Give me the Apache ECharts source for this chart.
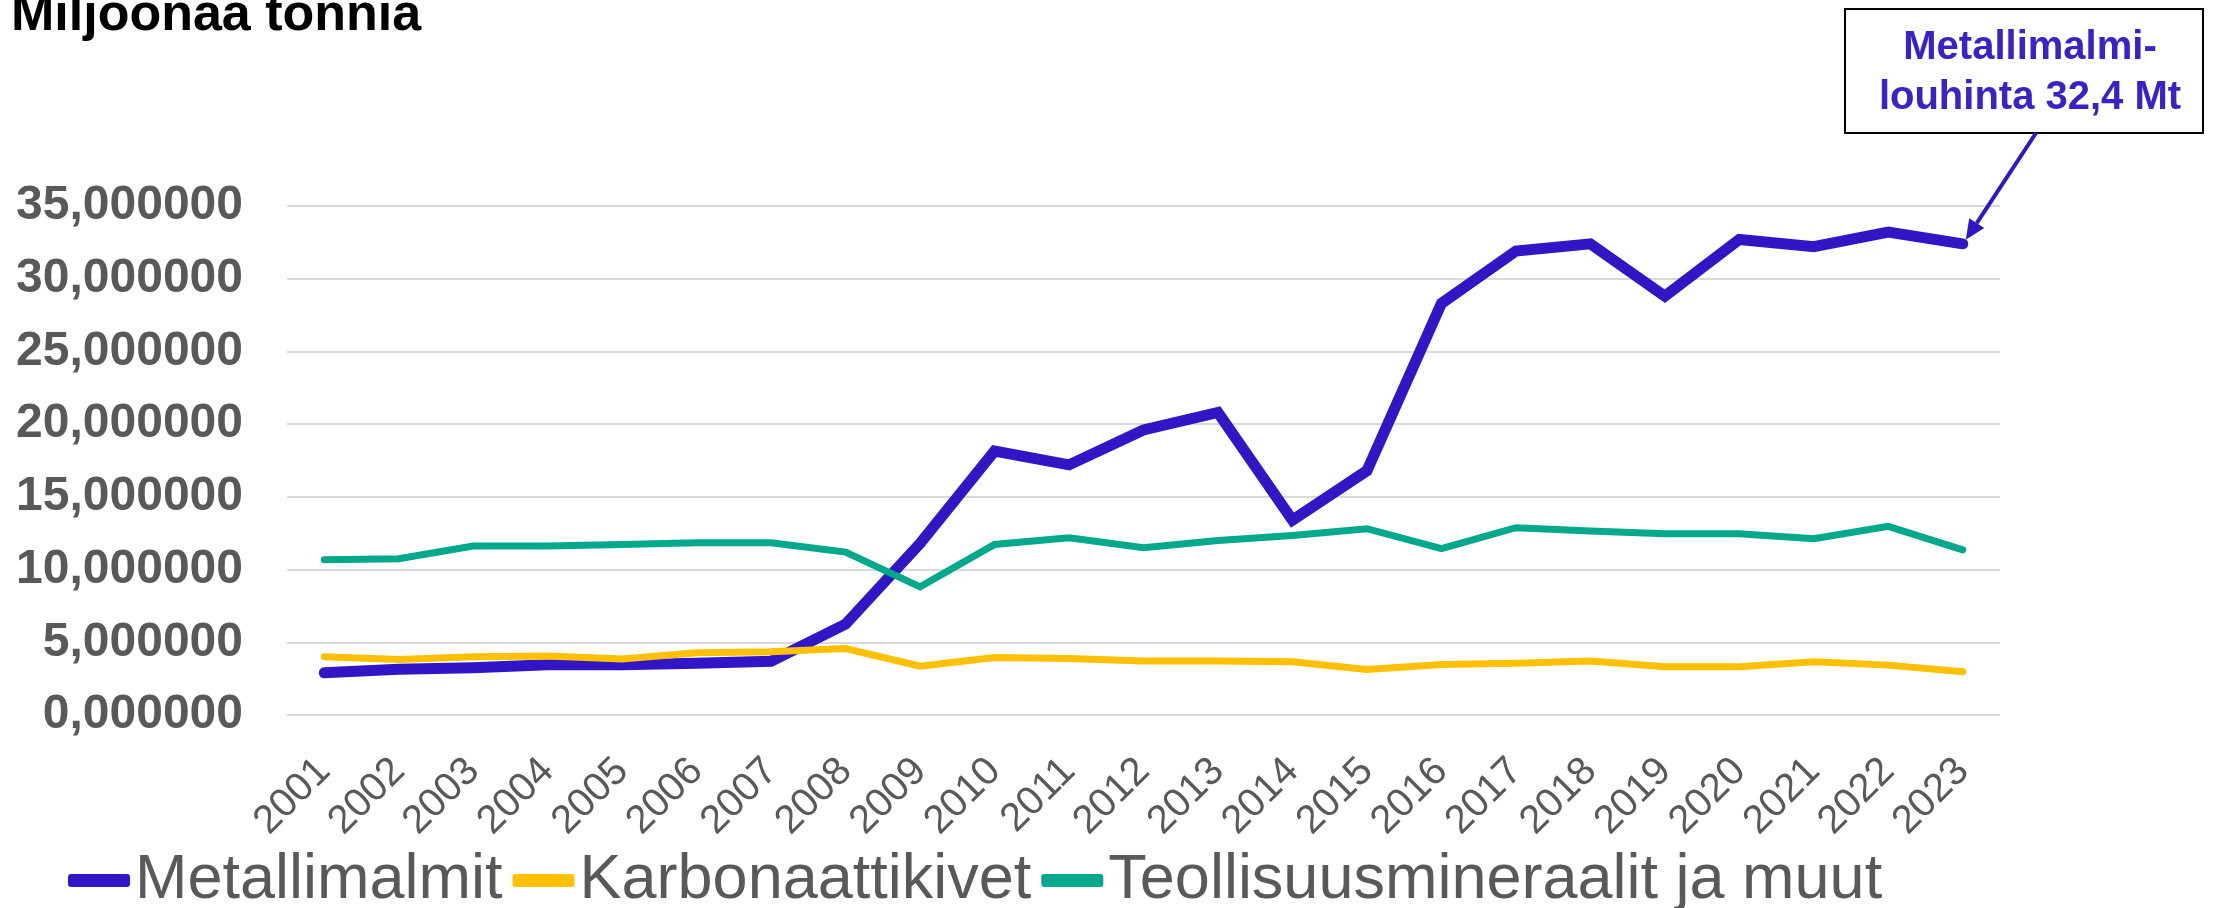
<!DOCTYPE html>
<html>
<head>
<meta charset="utf-8">
<script src="https://cdn.jsdelivr.net/npm/echarts@6/dist/echarts.min.js"></script>
<style>
html,body{margin:0;padding:0;background:#fff;}
#chart{width:2216px;height:908px;}
</style>
</head>
<body>
<div id="chart"></div>
<script>
const years = ['2001','2002','2003','2004','2005','2006','2007','2008','2009','2010','2011','2012','2013','2014','2015','2016','2017','2018','2019','2020','2021','2022','2023'];
const metallimalmit = [2.9,3.15,3.25,3.45,3.45,3.55,3.7,6.25,11.8,18.15,17.2,19.6,20.8,13.4,16.8,28.3,31.9,32.4,28.8,32.7,32.2,33.2,32.4];
const karbonaattikivet = [4.0,3.82,4.0,4.05,3.85,4.28,4.35,4.57,3.36,3.96,3.89,3.72,3.72,3.66,3.13,3.48,3.55,3.71,3.32,3.32,3.66,3.43,2.97];
const teollisuus = [10.68,10.75,11.62,11.62,11.73,11.85,11.85,11.2,8.81,11.73,12.19,11.5,12.0,12.35,12.81,11.44,12.88,12.65,12.47,12.47,12.12,12.97,11.36];
const seriesNames = ['Metallimalmit','Karbonaattikivet','Teollisuusmineraalit ja muut'];
const titleText = 'Miljoonaa tonnia';
const annotationLines = ['Metallimalmi-','louhinta 32,4 Mt'];

const FONT = '"Liberation Sans", Arial, sans-serif';
const chart = echarts.init(document.getElementById('chart'), null, {renderer:'canvas'});

const option = {
  animation:false,
  backgroundColor:'#ffffff',
  grid:{left:287,right:216,top:206,bottom:193,containLabel:false},
  legend:{
    data:seriesNames,
    left:68, top:849, padding:0,
    icon:'roundRect', itemWidth:62, itemHeight:13, itemGap:10,
    textStyle:{fontFamily:FONT,fontSize:63,color:'#595959'}
  },
  xAxis:{
    type:'category', data:years, boundaryGap:true,
    axisLine:{show:false}, axisTick:{show:false},
    axisLabel:{rotate:45, fontFamily:FONT, fontSize:40, color:'#595959', margin:50, interval:0}
  },
  yAxis:{
    type:'value', min:0, max:35, interval:5,
    axisLine:{show:false}, axisTick:{show:false},
    splitLine:{lineStyle:{color:'#D9D9D9',width:2}},
    axisLabel:{fontFamily:FONT,fontSize:48,fontWeight:'bold',color:'#595959',margin:44,
      formatter:v=>v.toFixed(6).replace('.',',')}
  },
  series:[
    {name:seriesNames[0],type:'line',data:metallimalmit,showSymbol:false,symbol:'none',
     itemStyle:{color:'#3116C6'},lineStyle:{color:'#3116C6',width:11,cap:'round',join:'miter'}},
    {name:seriesNames[1],type:'line',data:karbonaattikivet,showSymbol:false,symbol:'none',
     itemStyle:{color:'#FFC000'},lineStyle:{color:'#FFC000',width:7,cap:'round',join:'miter'}},
    {name:seriesNames[2],type:'line',data:teollisuus,showSymbol:false,symbol:'none',
     itemStyle:{color:'#00A98B'},lineStyle:{color:'#00A98B',width:7,cap:'round',join:'miter'}}
  ]
};
chart.setOption(option);

// annotation anchored to last data point via the chart's scales
const last = years.length-1;
const pt = chart.convertToPixel({seriesIndex:0}, [last, metallimalmit[last]]);
const tip = [pt[0]+3, pt[1]-4];
const start = [2036, 133];
const dx = tip[0]-start[0], dy = tip[1]-start[1];
const len = Math.sqrt(dx*dx+dy*dy);
const ux = dx/len, uy = dy/len;
const headLen = 20, headW = 9;
const base = [tip[0]-ux*headLen, tip[1]-uy*headLen];
const px = -uy, py = ux;

chart.setOption({
  graphic:[
    {type:'text', x:11, y:16, z:100,
     style:{text:titleText, font:'bold 52px '+FONT, fill:'#000000', verticalAlign:'middle', align:'left'}},
    {type:'rect', x:1845, y:9, z:100, shape:{width:358,height:124},
     style:{fill:'#ffffff', stroke:'#000000', lineWidth:2}},
    {type:'text', x:2030, y:73, z:101,
     style:{text:annotationLines.join('\n'), font:'bold 40px '+FONT, fill:'#3B22C8', align:'center', verticalAlign:'middle', lineHeight:50}},
    {type:'line', z:100, shape:{x1:start[0],y1:start[1],x2:base[0],y2:base[1]},
     style:{stroke:'#3116C6', lineWidth:4}},
    {type:'polygon', z:100, shape:{points:[tip,[base[0]+px*headW,base[1]+py*headW],[base[0]-px*headW,base[1]-py*headW]]},
     style:{fill:'#3116C6'}}
  ]
});
</script>
</body>
</html>
